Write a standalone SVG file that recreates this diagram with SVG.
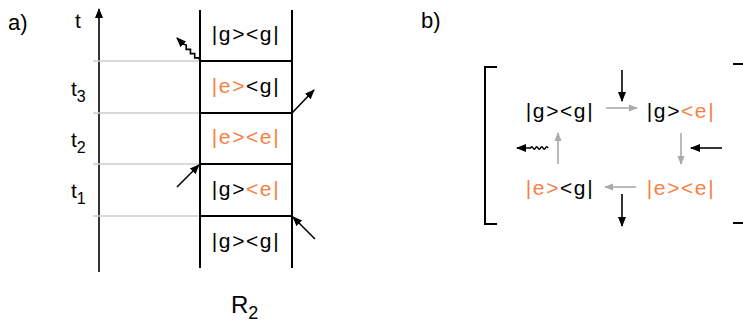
<svg xmlns="http://www.w3.org/2000/svg" width="743" height="328" viewBox="0 0 743 328">
  <style>
    text { font-family: "Liberation Sans", Arial, sans-serif; fill: #000; }
    .lbl { font-size: 22px; }
    .ket { font-size: 21px; letter-spacing: 1.6px; text-anchor: middle; }
    .tl { font-size: 21px; }
    .sub { font-size: 16px; }
    .o { fill: #f77f44; }
    .blk { stroke: #000; stroke-width: 2; fill: none; }
    .grid { stroke: #cccccc; stroke-width: 1.6; fill: none; }
    .ar { stroke: #000; stroke-width: 1.6; fill: none; marker-end: url(#hk); }
    .ga { stroke: #aaaaaa; stroke-width: 1.6; fill: none; marker-end: url(#hg); }
  </style>
  <defs>
    <marker id="hk" viewBox="0 0 10 10" refX="9" refY="5" markerWidth="10" markerHeight="10" markerUnits="userSpaceOnUse" orient="auto">
      <path d="M0,1 L10,5 L0,9 z" fill="#000"/>
    </marker>
    <marker id="hg" viewBox="0 0 10 10" refX="9" refY="5" markerWidth="9" markerHeight="9" markerUnits="userSpaceOnUse" orient="auto">
      <path d="M0,1 L10,5 L0,9 z" fill="#aaaaaa"/>
    </marker>
  </defs>

  <!-- panel a -->
  <g id="panel-a">
    <text class="lbl" x="8" y="30">a)</text>
    <text class="tl" x="75" y="28">t</text>
    <text class="tl" x="71" y="96">t<tspan class="sub" dy="6">3</tspan></text>
    <text class="tl" x="71" y="147">t<tspan class="sub" dy="6">2</tspan></text>
    <text class="tl" x="71" y="198">t<tspan class="sub" dy="6">1</tspan></text>
    <text x="231" y="313" font-size="24">R<tspan font-size="18" dy="6">2</tspan></text>
  </g>

  <g id="time-axis">
    <line class="ar" x1="99" y1="272" x2="99" y2="9"/>
  </g>

  <g id="time-marks">
    <line class="grid" x1="93" y1="61" x2="200" y2="61"/>
    <line class="grid" x1="93" y1="113" x2="200" y2="113"/>
    <line class="grid" x1="93" y1="164" x2="200" y2="164"/>
    <line class="grid" x1="93" y1="216" x2="200" y2="216"/>
  </g>

  <g id="ladder">
    <line class="blk" x1="200" y1="10" x2="200" y2="268"/>
    <line class="blk" x1="292" y1="10" x2="292" y2="268"/>
    <line class="blk" x1="200" y1="61" x2="292" y2="61"/>
    <line class="blk" x1="200" y1="113" x2="292" y2="113"/>
    <line class="blk" x1="200" y1="164" x2="292" y2="164"/>
    <line class="blk" x1="200" y1="216" x2="292" y2="216"/>
  </g>

  <g id="state-a1"><text class="ket" x="246" y="41">|g&gt;&lt;g|</text></g>
  <g id="state-a2"><text class="ket" x="246" y="93"><tspan class="o">|e&gt;</tspan>&lt;g|</text></g>
  <g id="state-a3"><text class="ket o" x="246" y="144">|e&gt;&lt;e|</text></g>
  <g id="state-a4"><text class="ket" x="246" y="196">|g&gt;<tspan class="o">&lt;e|</tspan></text></g>
  <g id="state-a5"><text class="ket" x="246" y="248">|g&gt;&lt;g|</text></g>

  <!-- photons in and out of the ladder -->
  <g id="connectors-a">
    <path class="ar" d="M200,61 L198.9,57.8 L194.7,57.9 L194.7,53.6 L190.4,53.6 L190.5,49.3 L186.2,49.4 L186.3,45.1 L183,44 L177,38"/>
    <line class="ar" x1="292" y1="113" x2="314" y2="90"/>
    <line class="ar" x1="177" y1="187" x2="199" y2="165"/>
    <line class="ar" x1="315" y1="239" x2="293" y2="217"/>
  </g>

  <!-- panel b -->
  <g id="panel-b">
    <text class="lbl" x="421" y="28">b)</text>
    <path class="blk" d="M497,67 L485,67 L485,224 L497,224"/>
    <line class="blk" x1="733" y1="64" x2="743" y2="64"/>
    <line class="blk" x1="733" y1="223" x2="743" y2="223"/>
  </g>

  <g id="state-b1"><text class="ket" x="560" y="118">|g&gt;&lt;g|</text></g>
  <g id="state-b2"><text class="ket" x="681" y="118">|g&gt;<tspan class="o">&lt;e|</tspan></text></g>
  <g id="state-b3"><text class="ket o" x="681" y="195">|e&gt;&lt;e|</text></g>
  <g id="state-b4"><text class="ket" x="560" y="195"><tspan class="o">|e&gt;</tspan>&lt;g|</text></g>

  <g id="connectors-b">
    <line class="ga" x1="606" y1="108" x2="637" y2="108"/>
    <line class="ga" x1="681" y1="133" x2="681" y2="164"/>
    <line class="ga" x1="636" y1="187" x2="605" y2="187"/>
    <line class="ga" x1="558" y1="164" x2="558" y2="133"/>
    <line class="ar" x1="622" y1="70" x2="622" y2="101"/>
    <line class="ar" x1="722" y1="148" x2="691" y2="148"/>
    <line class="ar" x1="622" y1="194" x2="622" y2="226"/>
    <path class="ar" d="M548,148 q-1.25,-2.5 -2.5,0 t-2.5,0 t-2.5,0 t-2.5,0 t-2.5,0 t-2.5,0 t-2.5,0 L517,148"/>
  </g>
</svg>
